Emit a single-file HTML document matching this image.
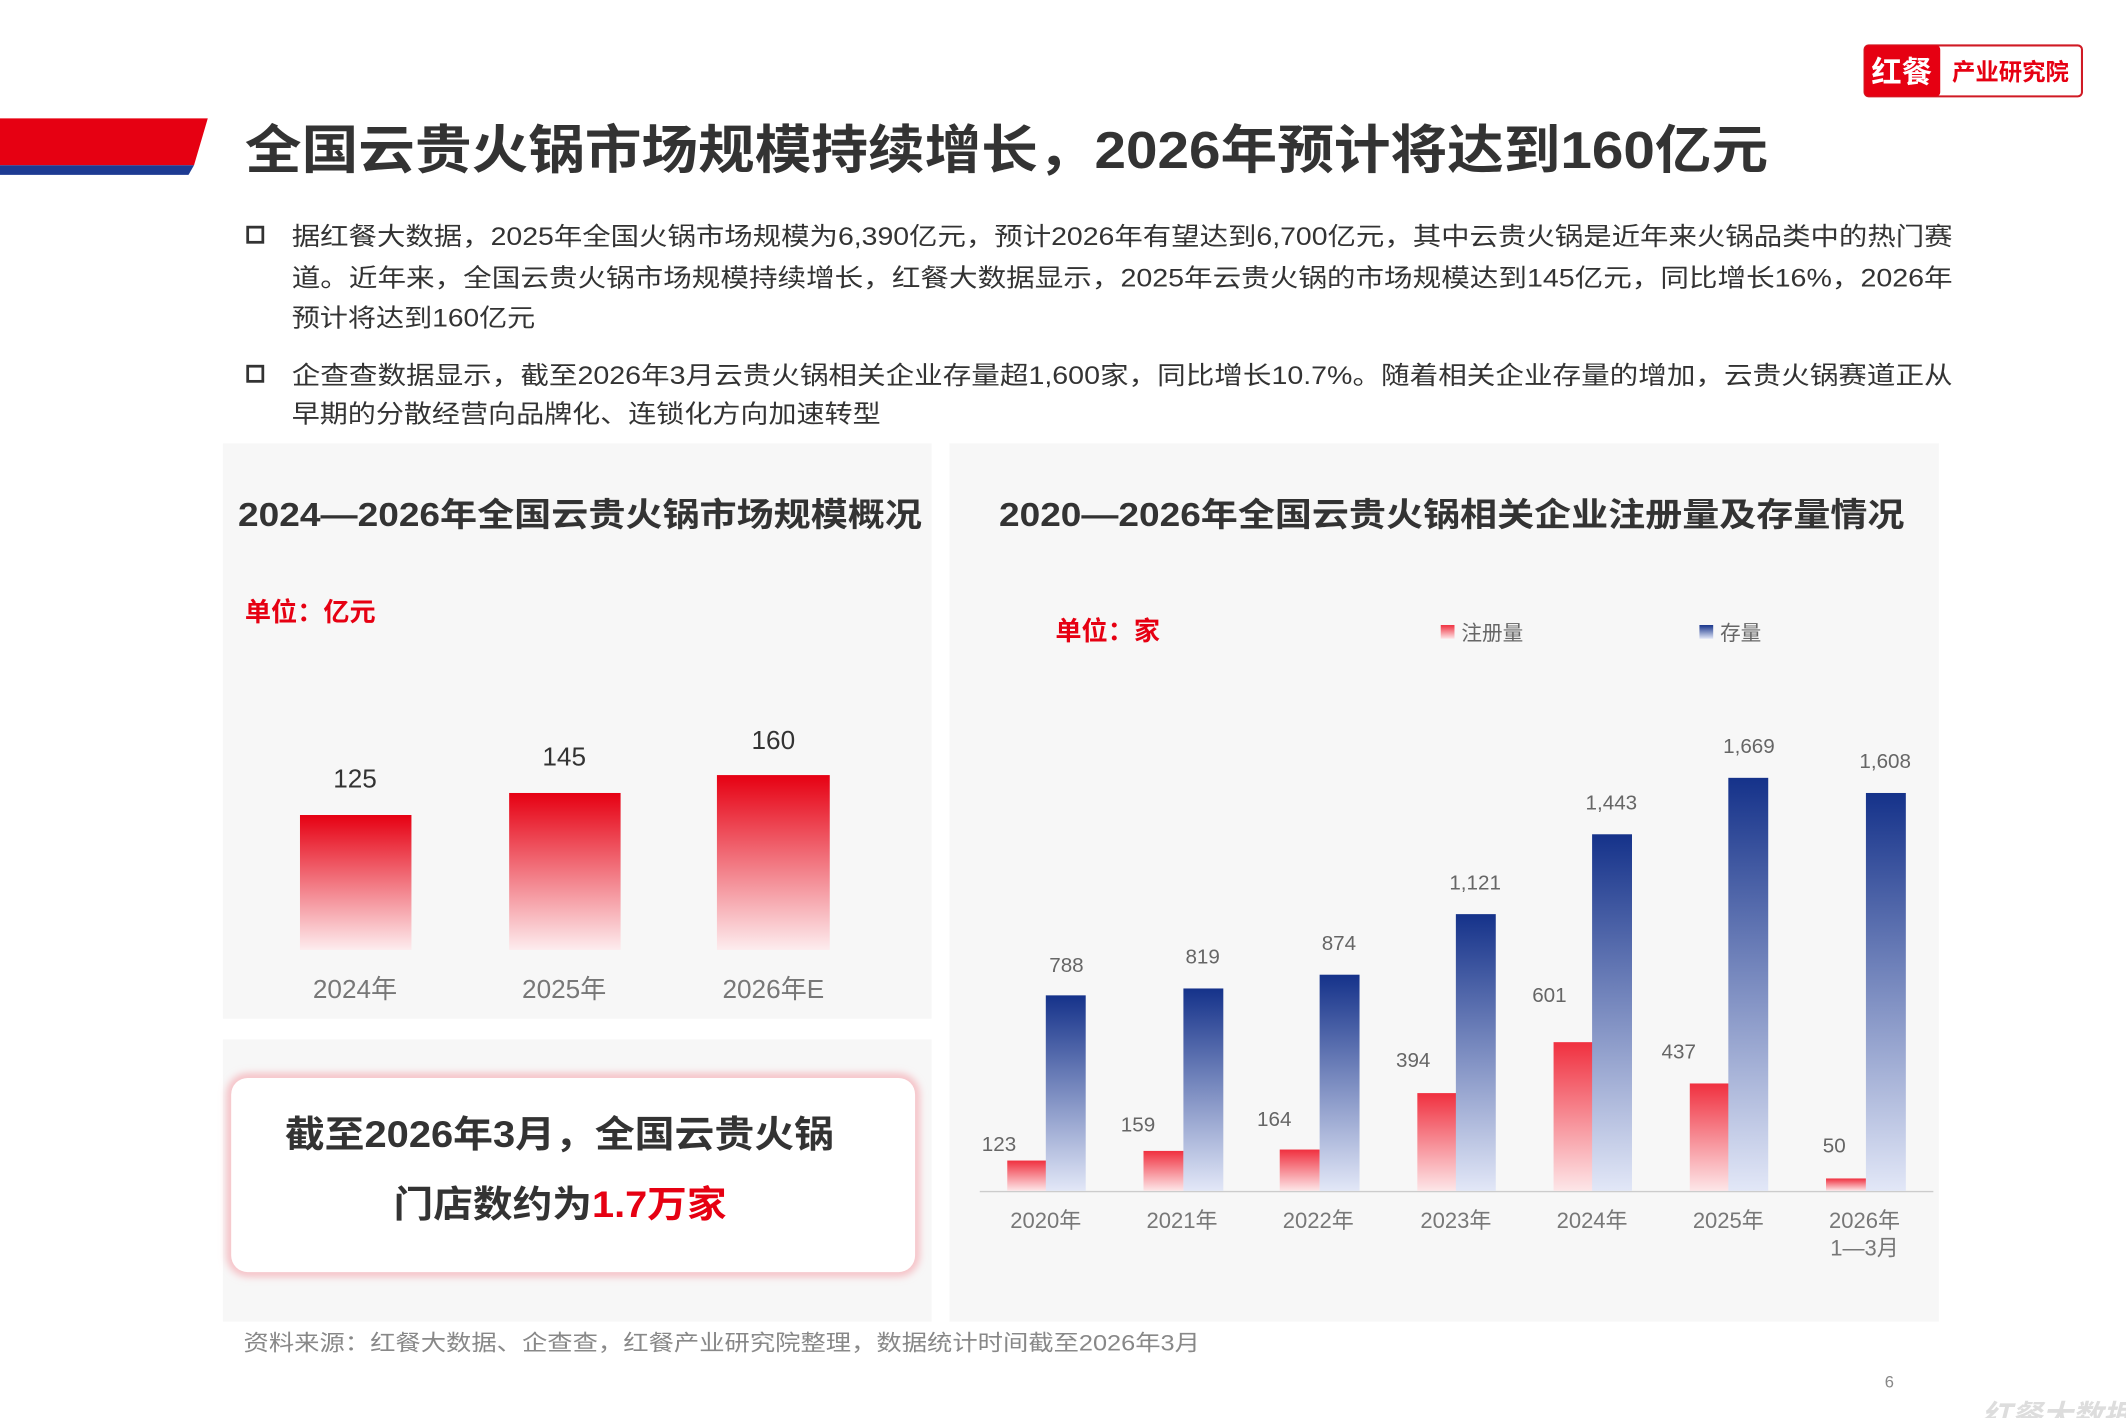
<!DOCTYPE html>
<html><head><meta charset="utf-8"><style>
html,body{margin:0;padding:0;background:#fff;}
svg{display:block;}
text{font-family:"Liberation Sans","Noto Sans CJK SC",sans-serif;}
</style></head><body>
<svg width="2126" height="1418" viewBox="0 0 1545 1030" preserveAspectRatio="none" xmlns="http://www.w3.org/2000/svg">
<defs>
<linearGradient id="rg" x1="0" y1="0" x2="0" y2="1"><stop offset="0" stop-color="#e60012"/><stop offset="1" stop-color="#fdecee"/></linearGradient>
<linearGradient id="bg" x1="0" y1="0" x2="0" y2="1"><stop offset="0" stop-color="#15328a"/><stop offset="1" stop-color="#e2e7f7"/></linearGradient>
<linearGradient id="rg2" x1="0" y1="0" x2="0" y2="1"><stop offset="0" stop-color="#f0303f"/><stop offset="1" stop-color="#fde6e8"/></linearGradient>
<filter id="sh" x="-10%" y="-20%" width="120%" height="140%"><feGaussianBlur stdDeviation="3"/></filter>
</defs>
<rect width="1545" height="1030" fill="#fff"/>
<!-- logo -->
<rect x="1355" y="33" width="158" height="37" rx="3" fill="#fff" stroke="#d01a24" stroke-width="1.5"/>
<rect x="1355" y="33" width="55" height="37" rx="3" fill="#e60012"/>
<text x="1382" y="60" font-size="22" font-weight="bold" fill="#fff" text-anchor="middle">红餐</text>
<text x="1461" y="58" font-size="17" font-weight="bold" fill="#e60012" text-anchor="middle">产业研究院</text>
<!-- banner -->
<polygon points="0,86 151,86 141,120 0,120" fill="#e60012"/>
<polygon points="0,120 141,120 137,127 0,127" fill="#1d3a92"/>
<text x="178" y="122" font-size="38" font-weight="bold" fill="#333" textLength="1107" lengthAdjust="spacingAndGlyphs">全国云贵火锅市场规模持续增长，2026年预计将达到160亿元</text>
<!-- bullets -->
<g font-size="18" fill="#333">
<rect x="180" y="165" width="11" height="11" fill="none" stroke="#333" stroke-width="2"/>
<text x="212" y="178" textLength="1207" lengthAdjust="spacingAndGlyphs">据红餐大数据，2025年全国火锅市场规模为6,390亿元，预计2026年有望达到6,700亿元，其中云贵火锅是近年来火锅品类中的热门赛</text>
<text x="212" y="208" textLength="1207" lengthAdjust="spacingAndGlyphs">道。近年来，全国云贵火锅市场规模持续增长，红餐大数据显示，2025年云贵火锅的市场规模达到145亿元，同比增长16%，2026年</text>
<text x="212" y="237" textLength="177" lengthAdjust="spacingAndGlyphs">预计将达到160亿元</text>
<rect x="180" y="266" width="11" height="11" fill="none" stroke="#333" stroke-width="2"/>
<text x="212" y="279" textLength="1207" lengthAdjust="spacingAndGlyphs">企查查数据显示，截至2026年3月云贵火锅相关企业存量超1,600家，同比增长10.7%。随着相关企业存量的增加，云贵火锅赛道正从</text>
<text x="212" y="307" textLength="428" lengthAdjust="spacingAndGlyphs">早期的分散经营向品牌化、连锁化方向加速转型</text>
</g>
<!-- panels -->
<rect x="162" y="322" width="515" height="418" fill="#f7f7f7"/>
<rect x="162" y="755" width="515" height="205" fill="#f7f7f7"/>
<rect x="690" y="322" width="719" height="638" fill="#f7f7f7"/>
<text x="173" y="382" font-size="24" font-weight="bold" fill="#333" textLength="497" lengthAdjust="spacingAndGlyphs">2024—2026年全国云贵火锅市场规模概况</text>
<text x="726" y="382" font-size="24" font-weight="bold" fill="#333" textLength="658" lengthAdjust="spacingAndGlyphs">2020—2026年全国云贵火锅相关企业注册量及存量情况</text>
<text x="178" y="451" font-size="19" font-weight="bold" fill="#e60012">单位：亿元</text>
<!-- left bars -->
<rect x="218" y="592" width="81" height="98" fill="url(#rg)"/>
<rect x="370" y="576" width="81" height="114" fill="url(#rg)"/>
<rect x="521" y="563" width="82" height="127" fill="url(#rg)"/>
<g font-size="19" fill="#333" text-anchor="middle">
<text x="258" y="572">125</text><text x="410" y="556">145</text><text x="562" y="544">160</text>
</g>
<g font-size="19" fill="#777" text-anchor="middle">
<text x="258" y="725">2024年</text><text x="410" y="725">2025年</text><text x="562" y="725">2026年E</text>
</g>
<!-- callout -->
<rect x="168" y="783" width="497" height="141" rx="12" fill="none" stroke="#f5a9b0" stroke-width="5" filter="url(#sh)"/>
<rect x="168" y="783" width="497" height="141" rx="12" fill="#fff"/>
<text x="207" y="833" font-size="27" font-weight="bold" fill="#333" textLength="399" lengthAdjust="spacingAndGlyphs">截至2026年3月，全国云贵火锅</text>
<text x="286" y="884" font-size="27" font-weight="bold" fill="#333" textLength="242" lengthAdjust="spacingAndGlyphs">门店数约为<tspan fill="#e60012">1.7万家</tspan></text>
<!-- right chart -->
<text x="767" y="465" font-size="19" font-weight="bold" fill="#e60012">单位：家</text>
<rect x="1047" y="454" width="10" height="10" fill="url(#rg2)"/>
<text x="1062" y="465" font-size="15" fill="#666">注册量</text>
<rect x="1235" y="454" width="10" height="10" fill="url(#bg)"/>
<text x="1250" y="465" font-size="15" fill="#666">存量</text>
<line x1="712" y1="865.5" x2="1405" y2="865.5" stroke="#ccc" stroke-width="1"/>
<g>
<rect x="732" y="843" width="29" height="22" fill="url(#rg2)"/><rect x="760" y="723" width="29" height="142" fill="url(#bg)"/>
<rect x="831" y="836" width="29" height="29" fill="url(#rg2)"/><rect x="860" y="718" width="29" height="147" fill="url(#bg)"/>
<rect x="930" y="835" width="29" height="30" fill="url(#rg2)"/><rect x="959" y="708" width="29" height="157" fill="url(#bg)"/>
<rect x="1030" y="794" width="29" height="71" fill="url(#rg2)"/><rect x="1058" y="664" width="29" height="201" fill="url(#bg)"/>
<rect x="1129" y="757" width="29" height="108" fill="url(#rg2)"/><rect x="1157" y="606" width="29" height="259" fill="url(#bg)"/>
<rect x="1228" y="787" width="29" height="78" fill="url(#rg2)"/><rect x="1256" y="565" width="29" height="300" fill="url(#bg)"/>
<rect x="1327" y="856" width="29" height="9" fill="url(#rg2)"/><rect x="1356" y="576" width="29" height="289" fill="url(#bg)"/>
</g>
<g font-size="15" fill="#666" text-anchor="middle">
<text x="726" y="836">123</text><text x="775" y="706">788</text>
<text x="827" y="822">159</text><text x="874" y="700">819</text>
<text x="926" y="818">164</text><text x="973" y="690">874</text>
<text x="1027" y="775">394</text><text x="1072" y="646">1,121</text>
<text x="1126" y="728">601</text><text x="1171" y="588">1,443</text>
<text x="1220" y="769">437</text><text x="1271" y="547">1,669</text>
<text x="1333" y="837">50</text><text x="1370" y="558">1,608</text>
</g>
<g font-size="16" fill="#777" text-anchor="middle">
<text x="760" y="892">2020年</text><text x="859" y="892">2021年</text><text x="958" y="892">2022年</text>
<text x="1058" y="892">2023年</text><text x="1157" y="892">2024年</text><text x="1256" y="892">2025年</text>
<text x="1355" y="892">2026年</text><text x="1355" y="912">1—3月</text>
</g>
<text x="177" y="981" font-size="16" fill="#888" textLength="695" lengthAdjust="spacingAndGlyphs">资料来源：红餐大数据、企查查，红餐产业研究院整理，数据统计时间截至2026年3月</text>
<text x="1373" y="1008" font-size="12" fill="#888" text-anchor="middle">6</text>
<text x="1440" y="1036" font-size="22" font-weight="bold" font-style="italic" fill="#ddd">红餐大数据</text>
</svg>
</body></html>
